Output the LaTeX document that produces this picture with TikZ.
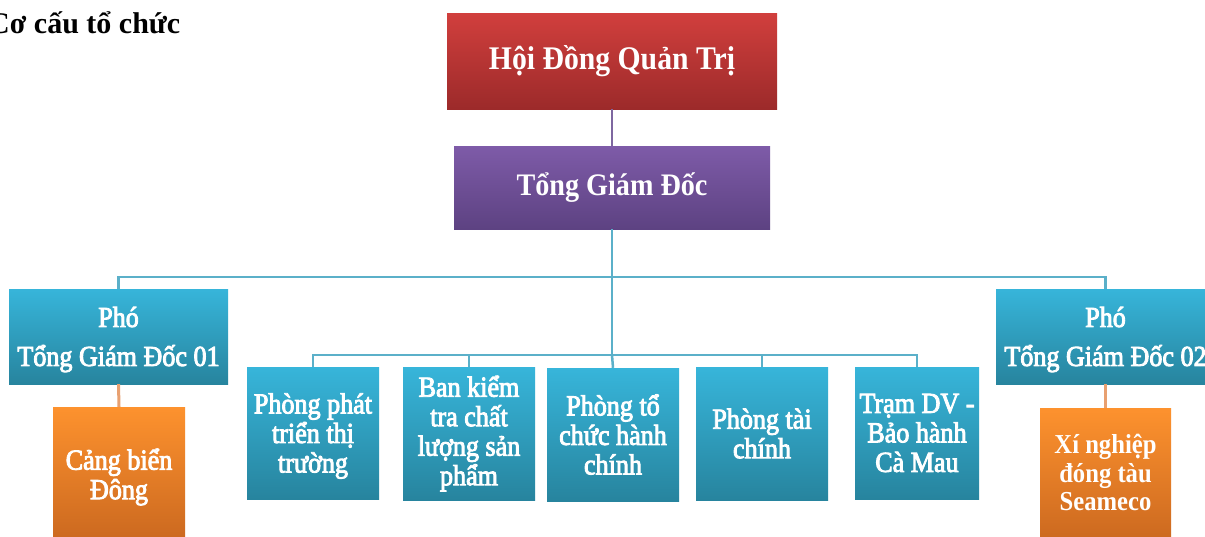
\documentclass[tikz,border=0pt]{standalone}
\usepackage{fontspec}
\setmainfont{Liberation Serif}[FakeStretch=0.9]
\newfontfamily\medfont{Liberation Serif}[FakeStretch=0.9, FakeBold=3]
\newfontfamily\titlefont{Liberation Serif}
\definecolor{redtop}{HTML}{D13F3D}
\definecolor{redbot}{HTML}{9C2A2A}
\definecolor{purtop}{HTML}{7E5BA8}
\definecolor{purbot}{HTML}{5D4282}
\definecolor{blutop}{HTML}{37B5DA}
\definecolor{blubot}{HTML}{27849E}
\definecolor{orgtop}{HTML}{FD922E}
\definecolor{orgbot}{HTML}{CD6A20}
\definecolor{tealline}{HTML}{5BB0C9}
\definecolor{purline}{HTML}{7E67A0}
\definecolor{orgline}{HTML}{E8A070}
\tikzset{
  box/.style={inner sep=0pt, text=white, align=center, font=\medfont\fontsize{29}{29.5}\selectfont},
  redbox/.style={box, top color=redtop, bottom color=redbot, minimum width=330pt, minimum height=96pt, font=\fontsize{33}{36}\selectfont\bfseries},
  purbox/.style={box, top color=purtop, bottom color=purbot, minimum width=316pt, minimum height=83pt, font=\fontsize{31.3}{36}\selectfont\bfseries},
  blubox/.style={box, top color=blutop, bottom color=blubot},
  orgbox/.style={box, top color=orgtop, bottom color=orgbot},
  tline/.style={draw=tealline, line width=2.5pt},
  pline/.style={draw=purline, line width=2pt},
  oline/.style={draw=orgline, line width=3pt},
}
\begin{document}
\begin{tikzpicture}[x=1pt,y=-1pt]
\useasboundingbox[fill=white] (0,0) rectangle (1205,536);
\node[anchor=base west, inner sep=0pt, font=\titlefont\fontsize{30}{34}\selectfont\bfseries] (title) at (-12,33) {Cơ cấu tổ chức};
\node[redbox] (hdqt) at (612,61) {Hội Đồng Quản Trị};
\node[purbox] (tgd) at (612,187.5) {Tổng Giám Đốc};
\node[blubox, minimum width=219pt, minimum height=95pt] (pgd1) at (118.5,336.5) {};
\node[box] (pgd1t) at (118.5,339.5) {Phó\\[9.5pt]Tổng Giám Đốc 01};
\node[blubox, minimum width=219pt, minimum height=95pt] (pgd2) at (1105.5,336.5) {};
\node[box] (pgd2t) at (1105.5,339.5) {Phó\\[9.5pt]Tổng Giám Đốc 02};
\node[orgbox, minimum width=132pt, minimum height=129pt] (cang) at (119,471.5) {};
\node[box] (cangt) at (119,477) {Cảng biển\\Đông};
\node[orgbox, minimum width=131pt, minimum height=129pt, font=\fontsize{27.4}{28.5}\selectfont\bfseries] (xn) at (1105.5,472.5) {Xí nghiệp\\đóng tàu\\Seameco};
\node[blubox, minimum width=132pt, minimum height=132pt] (d1) at (313,433) {};
\node[box] (d1t) at (313,436) {Phòng phát\\triển thị\\trường};
\node[blubox, minimum width=132pt, minimum height=133pt] (d2) at (469,433.5) {Ban kiểm\\tra chất\\lượng sản\\phẩm};
\node[blubox, minimum width=132pt, minimum height=133pt] (d3) at (613,434.5) {Phòng tổ\\chức hành\\chính};
\node[blubox, minimum width=132pt, minimum height=133pt] (d4) at (762,433.5) {Phòng tài\\chính};
\node[blubox, minimum width=124pt, minimum height=132pt] (d5) at (917,433) {Trạm DV -\\Bảo hành\\Cà Mau};
\coordinate (bus1) at (612,277);
\coordinate (bus2) at (612,355);
\draw[pline] (hdqt.south) -- (tgd.north);
\draw[tline] (tgd.south) -- (bus2);
\draw[tline] (bus1) -| (pgd1.north);
\draw[tline] (bus1) -| (pgd2.north);
\draw[tline] (bus2) -| (d1.north);
\draw[tline] (bus2) -| (d2.north);
\draw[tline] (bus2) -- (d3.north);
\draw[tline] (bus2) -| (d4.north);
\draw[tline] (bus2) -| (d5.north);
\draw[oline] (pgd1.south) -- (cang.north);
\draw[oline] (pgd2.south) -- (xn.north);
\end{tikzpicture}
\end{document}
